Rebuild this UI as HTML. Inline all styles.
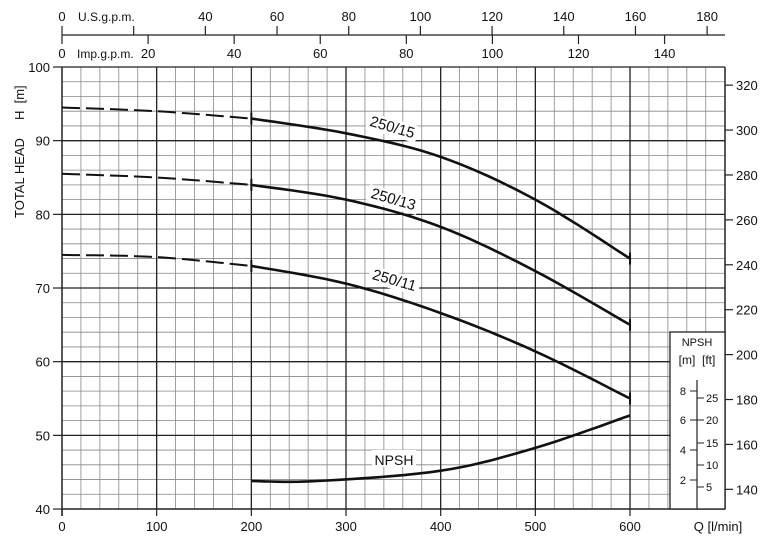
<!DOCTYPE html>
<html><head><meta charset="utf-8"><style>
html,body{margin:0;padding:0;background:#fff;}
svg{display:block;font-family:"Liberation Sans",sans-serif;}
</style></head><body>
<svg id="s" width="766" height="541" xmlns="http://www.w3.org/2000/svg"></svg>
<script>
const s=document.getElementById('s');
let h='';
const X=q=>62+q*0.9467, Y=v=>67+(100-v)*7.367;
const L=(x1,y1,x2,y2,c,w)=>h+=`<line x1="${x1}" y1="${y1}" x2="${x2}" y2="${y2}" stroke="${c}" stroke-width="${w}"/>`;
const T=(x,y,t,a,sz,extra)=>h+=`<text x="${x}" y="${y}" font-size="${sz||12}" text-anchor="${a||'middle'}" fill="#111" ${extra||''}>${t}</text>`;
for(let q=20;q<700;q+=20){if(q%100)L(X(q),67,X(q),509,'#888',0.8);}
for(let v=42;v<100;v+=2){if(v%10)L(62,Y(v),725,Y(v),'#888',0.8);}
for(let q=100;q<700;q+=100)L(X(q),67,X(q),509,'#222',1.3);
for(let v=50;v<100;v+=10)L(62,Y(v),725,Y(v),'#222',1.3);
L(62,67,725,67,'#222',1.3);L(62,67,62,516,'#222',1.5);L(62,509,725,509,'#222',1.5);L(725,67,725,509,'#222',1.5);
h+=`<rect x="670" y="332" width="55" height="177" fill="#fff" stroke="#222" stroke-width="1.3"/>`;
T(697,346,'NPSH','middle',11);T(697,364,'[m]&#160;&#160;[ft]','middle',12);
L(697,380,697,509,'#222',1.2);
[[8,391],[6,420],[4,450],[2,480]].forEach(([m,y])=>{L(690,y,697,y,'#222',1);T(686,y+4,m,'end',11);});
[[25,398],[20,420],[15,443],[10,465],[5,487]].forEach(([f,y])=>{L(697,y,704,y,'#222',1);T(706,y+4,f,'start',11);});
for(let v=40;v<=100;v+=10){L(53,Y(v),62,Y(v),'#222',1.2);T(50,Y(v)+5,v,'end',13);}
T(0,0,'TOTAL HEAD&#160;&#160;&#160;&#160;&#160;H&#160;&#160;[m]','start',13,'transform="translate(24,218) rotate(-90)"');
for(let q=0;q<=600;q+=100){L(X(q),509,X(q),516,'#222',1.2);T(X(q),531,q,'middle',13);}
T(718,531,'Q [l/min]','middle',13);
for(let f=140;f<=320;f+=20){const y=Y(f/3.2808);L(725,y,733,y,'#222',1.2);T(736,y+5,f,'start',13);}
L(62,35,725,35,'#222',1.2);
for(let g=0;g<=180;g+=20){const x=62+g*3.584;L(x,26,x,35,'#222',1.2);if(g!=20)T(x,21,g,'middle',13);}
T(78,21,'U.S.g.p.m.','start',12);
for(let g=0;g<=140;g+=20){const x=62+g*4.304;L(x,35,x,44,'#222',1.2);if(g>0)T(x,58,g,'middle',13);}
T(62,58,'0','middle',13);T(77,58,'Imp.g.p.m.','start',12);
function curve(pts,dash){let d='';pts.forEach((p,i)=>d+=(i?' L':'M')+X(p[0]).toFixed(1)+' '+Y(p[1]).toFixed(1));h+=`<path d="${d}" fill="none" stroke="#111" stroke-width="${dash?2:2.6}" ${dash?'stroke-dasharray="18 6"':''}/>`;}
function smooth(a){
 const out=[];for(let i=0;i<a.length-1;i++){const p0=a[Math.max(0,i-1)],p1=a[i],p2=a[i+1],p3=a[Math.min(a.length-1,i+2)];
 for(let t=0;t<1;t+=0.1){const t2=t*t,t3=t2*t;const f=(k)=>0.5*((2*p1[k])+(-p0[k]+p2[k])*t+(2*p0[k]-5*p1[k]+4*p2[k]-p3[k])*t2+(-p0[k]+3*p1[k]-3*p2[k]+p3[k])*t3);out.push([f(0),f(1)]);}}
 out.push(a[a.length-1]);return out;}
const c15=[[200,93],[300,91],[400,87.8],[500,82],[600,74]];
const c13=[[200,84],[300,82],[400,78.3],[500,72.3],[600,65]];
const c11=[[200,73],[300,70.6],[400,66.6],[500,61.4],[600,55]];
const np=[[200,43.8],[270,43.8],[400,45.2],[500,48.3],[600,52.7]];
curve(smooth([[0,94.5],[100,94],[200,93]]),1);curve(smooth(c15));
curve(smooth([[0,85.5],[100,85],[200,84]]),1);curve(smooth(c13));
curve(smooth([[0,74.5],[100,74.2],[200,73]]),1);curve(smooth(c11));
curve(smooth(np));
[[93,74],[84,65],[73,55]].forEach(([a,b])=>{L(X(200),Y(a)-6,X(200),Y(a)+6,'#111',2);L(X(600),Y(b)-6,X(600),Y(b)+6,'#111',2);});
function lab(x,y,t,r){h+=`<g transform="translate(${x},${y}) rotate(${r})"><rect x="-26" y="-13" width="52" height="17" fill="#fff"/><text x="0" y="0" font-size="15" text-anchor="middle" fill="#111">${t}</text></g>`;}
lab(391,132,'250/15',16);lab(392,204,'250/13',16);lab(393,285,'250/11',16);
h+=`<rect x="372" y="450" width="44" height="17" fill="#fff"/>`;T(394,465,'NPSH','middle',14);
s.innerHTML=h;
</script>
</body></html>
